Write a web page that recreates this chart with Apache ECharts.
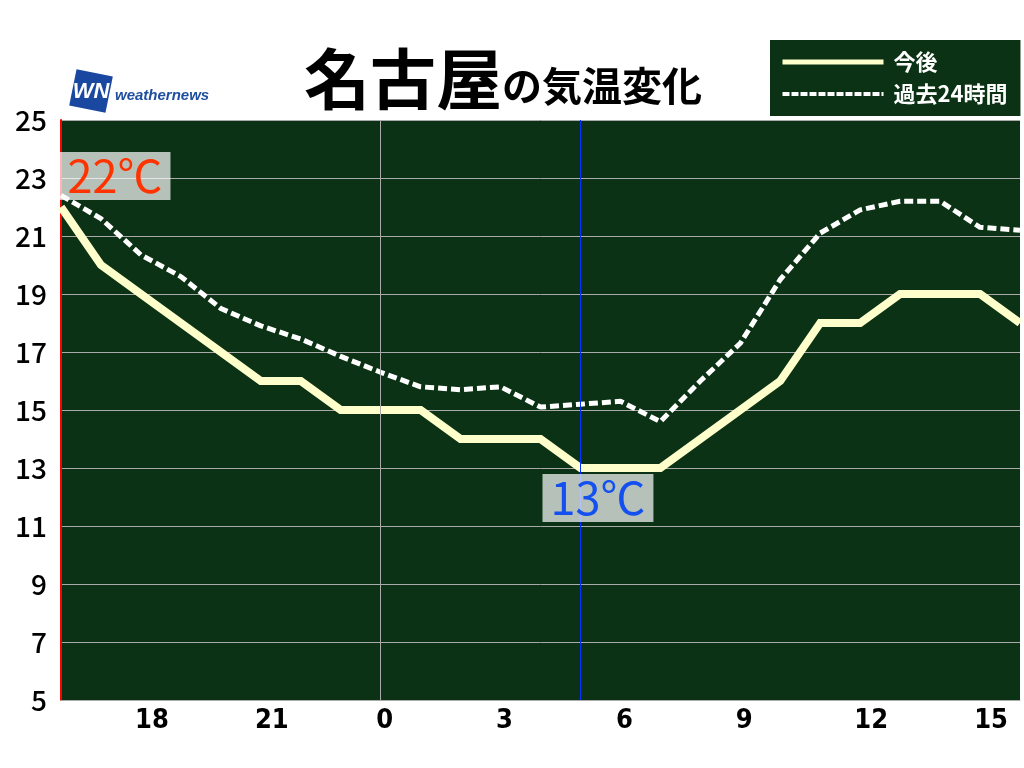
<!DOCTYPE html>
<html>
<head>
<meta charset="utf-8">
<script src="https://cdn.jsdelivr.net/npm/echarts@6/dist/echarts.min.js"></script>
<style>
html,body{margin:0;padding:0;background:#fff;}
#c{width:1024px;height:768px;}
</style>
</head>
<body>
<div id="c"></div>
<script>
// ---- data ----
const hours = ['16','17','18','19','20','21','22','23','0','1','2','3','4','5','6','7','8','9','10','11','12','13','14','15','16'];
const tickLabels = ['18','21','0','3','6','9','12','15'];
const futureTemp = [22,20,19,18,17,16,16,15,15,15,14,14,14,13,13,13,14,15,16,18,18,19,19,19,18];
const pastTemp = [22.4,21.6,20.35,19.6,18.5,17.9,17.45,16.85,16.3,15.8,15.7,15.8,15.1,15.2,15.3,14.6,16.0,17.3,19.5,21.1,21.9,22.2,22.2,21.3,21.2];
const seriesNames = ['今後','過去24時間'];
const titleMain = '名古屋';
const titleSub = 'の気温変化';
const logoMark = 'WN';
const logoText = 'weathernews';
const midnightHour = '0';

const JP = '"Noto Sans CJK JP","Noto Sans",sans-serif';
const NARROW = '"Liberation Sans Narrow","DejaVu Sans Condensed",sans-serif';

let minIdx = 0;
futureTemp.forEach((v,i)=>{ if(v < futureTemp[minIdx]) minIdx = i; });

const labelFont = {color: '#000', fontSize: 27, fontWeight: 'bold', fontFamily: NARROW};

const chart = echarts.init(document.getElementById('c'), null, {renderer:'canvas'});
const option = {
  animation: false,
  backgroundColor: '#ffffff',
  title: {
    left: 299, top: 33,
    text: '{a|' + titleMain + '}{b|' + titleSub + '}',
    textStyle: {
      rich: {
        a: {fontSize: 66, fontWeight: 'bold', fontFamily: JP, color: '#000', verticalAlign: 'bottom', lineHeight: 74},
        b: {fontSize: 40, fontWeight: 'bold', fontFamily: JP, color: '#000', verticalAlign: 'bottom', lineHeight: 74, padding: [0,0,6,0]}
      }
    }
  },
  legend: {
    orient: 'vertical',
    left: 770, top: 40,
    backgroundColor: '#0b3214',
    padding: [11, 13, 11, 10],
    itemWidth: 101, itemHeight: 20, itemGap: 10,
    itemStyle: {opacity: 0},
    textStyle: {color: '#ffffff', fontSize: 22, fontWeight: 'bold', fontFamily: JP, padding: [0,0,0,5]},
    data: [
      {name: seriesNames[0], itemStyle: {opacity: 0}, lineStyle: {width: 5, color: '#ffffcc', type: 'solid'}},
      {name: seriesNames[1], itemStyle: {opacity: 0}, lineStyle: {width: 4, color: '#ffffff', type: [7, 2]}}
    ]
  },
  graphic: [
    {type: 'rect', x: 91, y: 91, rotation: -0.2,
     shape: {x: -18.5, y: -18.5, width: 37, height: 37},
     style: {fill: '#1a47a0'}},
    {type: 'text', x: 91, y: 92,
     style: {text: logoMark, fill: '#fff', font: 'italic 900 22px "Liberation Sans", Arial, sans-serif', align: 'center', verticalAlign: 'middle'}},
    {type: 'text', x: 115, y: 96,
     style: {text: logoText, fill: '#1e4f9f', font: 'italic bold 15px "Liberation Sans", Arial, sans-serif', align: 'left', verticalAlign: 'middle'}}
  ],
  grid: {left: 61, right: 4, top: 120, bottom: 68, show: true, backgroundColor: '#0b3214', borderWidth: 0},
  xAxis: {
    type: 'category',
    data: hours,
    boundaryGap: false,
    axisLine: {show: true, lineStyle: {color: '#aaaaaa', width: 1}},
    axisTick: {show: false},
    splitLine: {show: false},
    axisLabel: {
      interval: (i, v) => tickLabels.indexOf(v) >= 0 && i < hours.length - 1,
      align: 'center',
      margin: 7,
      formatter: v => (v.length > 1 ? '{d|' : '{s|') + v + '}',
      rich: {
        d: Object.assign({padding: [0, 0, 0, 22]}, labelFont),
        s: Object.assign({padding: [0, 0, 0, 8]}, labelFont)
      },
      ...labelFont
    }
  },
  yAxis: {
    type: 'value',
    min: 5, max: 25, interval: 2,
    axisLine: {show: true, lineStyle: {color: '#ff0000', width: 2}},
    axisTick: {show: false},
    splitLine: {show: true, lineStyle: {color: '#aaaaaa', width: 1}},
    axisLabel: {margin: 14, color: '#000', fontSize: 28, fontWeight: 500, fontFamily: JP}
  },
  series: [
    {
      name: seriesNames[0], type: 'line', data: futureTemp, z: 3,
      symbol: 'none', showSymbol: false,
      lineStyle: {color: '#ffffcc', width: 8, join: 'miter'},
      itemStyle: {color: '#ffffcc'},
      markPoint: {
        symbol: 'circle', symbolSize: 1, itemStyle: {color: 'rgba(0,0,0,0)'},
        silent: true,
        data: [
          {coord: [0, futureTemp[0]], value: futureTemp[0],
           label: {show: true, position: 'inside', offset: [54, -31], formatter: p => p.value + '℃',
             color: '#ff3300', fontSize: 45, fontFamily: JP, backgroundColor: 'rgba(255,255,255,0.7)',
             padding: [0, 8], height: 48, lineHeight: 48}},
          {coord: [minIdx, futureTemp[minIdx]], value: futureTemp[minIdx],
           label: {show: true, position: 'inside', offset: [17.5, 30], formatter: p => p.value + '℃',
             color: '#1450f0', fontSize: 45, fontFamily: JP, backgroundColor: 'rgba(255,255,255,0.7)',
             padding: [0, 8], height: 48, lineHeight: 48}}
        ]
      }
    },
    {
      name: seriesNames[1], type: 'line', data: pastTemp, z: 2,
      symbol: 'none', showSymbol: false,
      lineStyle: {color: '#ffffff', width: 5, type: [9, 4]},
      itemStyle: {color: '#ffffff'},
      markLine: {
        silent: true, symbol: 'none', label: {show: false},
        data: [
          {xAxis: midnightHour, lineStyle: {color: '#aaaaaa', width: 1, type: 'solid'}},
          {xAxis: minIdx, lineStyle: {color: '#0033ff', width: 1, type: 'solid'}}
        ]
      }
    }
  ]
};
chart.setOption(option);
</script>
</body>
</html>
